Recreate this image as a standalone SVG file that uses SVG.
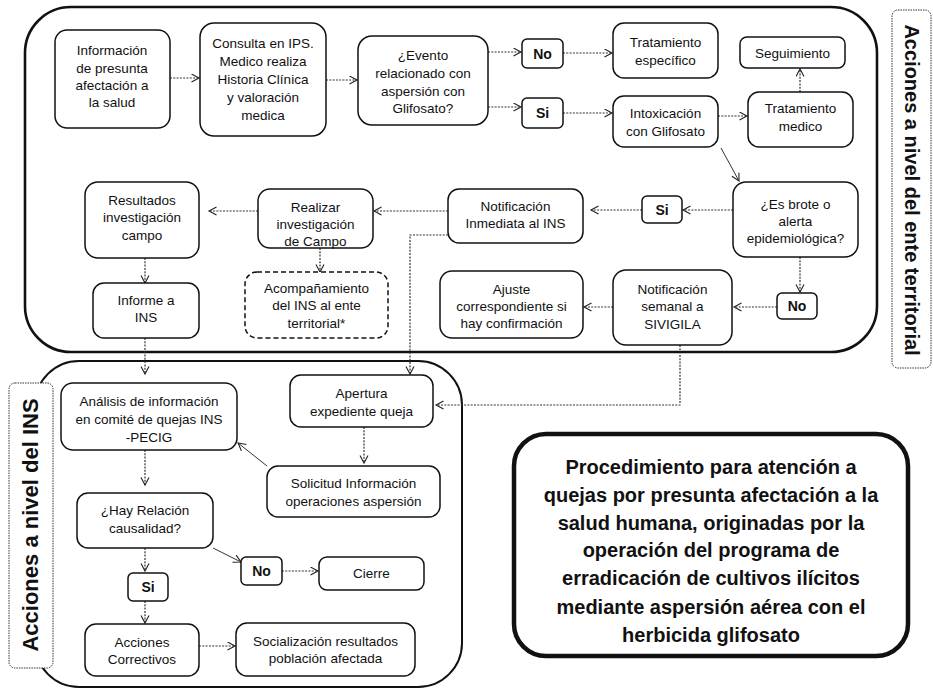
<svg xmlns="http://www.w3.org/2000/svg" width="933" height="691" viewBox="0 0 933 691">
<defs>
<marker id="ah" markerUnits="userSpaceOnUse" markerWidth="12" markerHeight="12" refX="8" refY="4.5" orient="auto">
<path d="M0.5,0.5 L8,4.5 L0.5,8.5" fill="none" stroke="#222" stroke-width="1.1"/>
</marker>
<style>
.bg{fill:#fff}
.frame{fill:none;stroke:#111;stroke-width:2.6}
.frame2{fill:none;stroke:#111;stroke-width:2}
.lab rect{fill:#fff;stroke:#333;stroke-width:1;stroke-dasharray:1.5 1}
.lab text{font-family:"Liberation Sans",Arial,sans-serif;font-weight:bold;fill:#111;text-anchor:middle}
.n rect{fill:#fff;stroke:#111;stroke-width:1.5}
.n text{font-family:"Liberation Sans",Arial,sans-serif;font-size:13.5px;fill:#111;text-anchor:middle}
.n.d rect{stroke-dasharray:5 3}
.n.b text{font-weight:bold;font-size:14px}
.c path{fill:none;stroke:#333;stroke-width:1.2;stroke-dasharray:2 1.3;marker-end:url(#ah)}
.c path.s{stroke-dasharray:none;stroke-width:1}
#title rect{fill:#fff;stroke:#111;stroke-width:4.5}
#title text{font-family:"Liberation Sans",Arial,sans-serif;font-size:20px;font-weight:bold;fill:#111;text-anchor:middle}
</style>
</defs>
<rect class="bg" x="0" y="0" width="933" height="691"/>

<g id="frames">
<rect class="frame" x="25" y="7" width="852" height="345" rx="46"/>
<rect class="frame2" x="35" y="361" width="427" height="326" rx="44"/>
</g>

<g id="label-ente" class="lab">
<rect x="892" y="10" width="39" height="358" rx="6"/>
<text transform="translate(905,190) rotate(90)" font-size="20">Acciones a nivel del ente territorial</text>
</g>
<g id="label-ins" class="lab">
<rect x="9" y="383" width="44" height="285" rx="6"/>
<text transform="translate(38,525) rotate(-90)" font-size="22">Acciones a nivel del INS</text>
</g>

<g id="connectors" class="c">
<path d="M170,78 H199"/>
<path d="M326,80 H357"/>
<path d="M488,52 H521"/>
<path d="M488,107 H521"/>
<path d="M563,53 H612"/>
<path d="M563,113 H612"/>
<path d="M718,116 H747"/>
<path d="M800,92 V69"/>
<path class="s" d="M721,148 L739,181"/>
<path d="M733,210 H683"/>
<path d="M642,210 H591"/>
<path d="M448,211 H374"/>
<path d="M258,211 H209"/>
<path d="M145,258 V283"/>
<path d="M320,248 V272"/>
<path d="M800,257 V292"/>
<path d="M777,307 H734"/>
<path d="M613,307 H584"/>
<path d="M448,235 H410 V374"/>
<path d="M680,345 V405 H436"/>
<path d="M145,338 V374"/>
<path d="M145,450 V485"/>
<path d="M364,427 V463"/>
<path class="s" d="M267,466 L238,443"/>
<path d="M145,548 V571"/>
<path class="s" d="M213,548 L241,562"/>
<path d="M282,571 H318"/>
<path d="M145,601 V623"/>
<path d="M199,646 H235"/>
</g>

<g id="n-info" class="n"><rect x="55" y="30" width="115" height="98" rx="12"/>
<text><tspan x="112" y="55">Información</tspan><tspan x="112" y="72.5">de presunta</tspan><tspan x="112" y="90">afectación a</tspan><tspan x="112" y="107">la salud</tspan></text></g>

<g id="n-consulta" class="n"><rect x="200" y="23" width="126" height="113" rx="14"/>
<text><tspan x="263" y="48">Consulta en IPS.</tspan><tspan x="263" y="66">Medico realiza</tspan><tspan x="263" y="84">Historia Clínica</tspan><tspan x="263" y="102">y valoración</tspan><tspan x="263" y="120">medica</tspan></text></g>

<g id="n-evento" class="n"><rect x="358" y="36" width="130" height="89" rx="14"/>
<text><tspan x="423" y="60">¿Evento</tspan><tspan x="423" y="78">relacionado con</tspan><tspan x="423" y="96">aspersión con</tspan><tspan x="423" y="113">Glifosato?</tspan></text></g>

<g id="n-no1" class="n b"><rect x="522" y="39" width="41" height="29" rx="5"/>
<text x="542.5" y="59">No</text></g>

<g id="n-si1" class="n b"><rect x="522" y="98" width="41" height="30" rx="5"/>
<text x="542.5" y="118">Si</text></g>

<g id="n-tratesp" class="n"><rect x="613" y="23" width="105" height="55" rx="11"/>
<text><tspan x="665.5" y="47">Tratamiento</tspan><tspan x="665.5" y="64.5">específico</tspan></text></g>

<g id="n-intox" class="n"><rect x="613" y="96" width="105" height="51" rx="11"/>
<text><tspan x="665.5" y="118">Intoxicación</tspan><tspan x="665.5" y="136">con Glifosato</tspan></text></g>

<g id="n-seguimiento" class="n"><rect x="740" y="37" width="105" height="31" rx="7"/>
<text x="792.5" y="58">Seguimiento</text></g>

<g id="n-tratmed" class="n"><rect x="748" y="92" width="105" height="55" rx="11"/>
<text><tspan x="800.5" y="113">Tratamiento</tspan><tspan x="800.5" y="131">medico</tspan></text></g>

<g id="n-brote" class="n"><rect x="733" y="182" width="125" height="75" rx="13"/>
<text><tspan x="795.5" y="209">¿Es brote o</tspan><tspan x="795.5" y="226">alerta</tspan><tspan x="795.5" y="243">epidemiológica?</tspan></text></g>

<g id="n-si2" class="n b"><rect x="642" y="196" width="40" height="27" rx="5"/>
<text x="662" y="215">Si</text></g>

<g id="n-no2" class="n b"><rect x="777" y="293" width="40" height="26" rx="5"/>
<text x="797" y="311">No</text></g>

<g id="n-sivigila" class="n"><rect x="613" y="270" width="119" height="75" rx="13"/>
<text><tspan x="672.5" y="294">Notificación</tspan><tspan x="672.5" y="311">semanal  a</tspan><tspan x="672.5" y="329">SIVIGILA</tspan></text></g>

<g id="n-ajuste" class="n"><rect x="440" y="271" width="143" height="67" rx="12"/>
<text><tspan x="511.5" y="294">Ajuste</tspan><tspan x="511.5" y="311">correspondiente si</tspan><tspan x="511.5" y="328">hay confirmación</tspan></text></g>

<g id="n-notinm" class="n"><rect x="448" y="189" width="135" height="54" rx="11"/>
<text><tspan x="515.5" y="211">Notificación</tspan><tspan x="515.5" y="228">Inmediata al INS</tspan></text></g>

<g id="n-realizar" class="n"><rect x="258" y="189" width="115" height="59" rx="12"/>
<text><tspan x="315.5" y="212">Realizar</tspan><tspan x="315.5" y="229">investigación</tspan><tspan x="315.5" y="246">de Campo</tspan></text></g>

<g id="n-acomp" class="n d"><rect x="245" y="272" width="143" height="66" rx="12"/>
<text><tspan x="316.5" y="293">Acompañamiento</tspan><tspan x="316.5" y="310">del INS al ente</tspan><tspan x="316.5" y="328">territorial*</tspan></text></g>

<g id="n-resultados" class="n"><rect x="85" y="182" width="114" height="76" rx="13"/>
<text><tspan x="142" y="205">Resultados</tspan><tspan x="142" y="222">investigación</tspan><tspan x="142" y="240">campo</tspan></text></g>

<g id="n-informe" class="n"><rect x="93" y="283" width="106" height="55" rx="11"/>
<text><tspan x="146" y="305">Informe a</tspan><tspan x="146" y="322">INS</tspan></text></g>

<g id="n-analisis" class="n"><rect x="61" y="383" width="176" height="67" rx="12"/>
<text><tspan x="149" y="406">Análisis  de información</tspan><tspan x="149" y="424">en comité de quejas INS</tspan><tspan x="149" y="442">-PECIG</tspan></text></g>

<g id="n-apertura" class="n"><rect x="290" y="375" width="143" height="52" rx="11"/>
<text><tspan x="361.5" y="398">Apertura</tspan><tspan x="361.5" y="416">expediente queja</tspan></text></g>

<g id="n-solicitud" class="n"><rect x="267" y="466" width="173" height="51" rx="11"/>
<text><tspan x="353.5" y="488">Solicitud Información</tspan><tspan x="353.5" y="506">operaciones aspersión</tspan></text></g>

<g id="n-relacion" class="n"><rect x="77" y="493" width="136" height="55" rx="11"/>
<text><tspan x="145" y="515">¿Hay Relación</tspan><tspan x="145" y="533">causalidad?</tspan></text></g>

<g id="n-si3" class="n b"><rect x="128" y="573" width="40" height="28" rx="5"/>
<text x="148" y="592">Si</text></g>

<g id="n-no3" class="n b"><rect x="241" y="557" width="41" height="28" rx="5"/>
<text x="261.5" y="576">No</text></g>

<g id="n-cierre" class="n"><rect x="319" y="557" width="105" height="33" rx="8"/>
<text x="371.5" y="578">Cierre</text></g>

<g id="n-acciones" class="n"><rect x="85" y="624" width="114" height="52" rx="11"/>
<text><tspan x="142" y="647">Acciones</tspan><tspan x="142" y="664">Correctivos</tspan></text></g>

<g id="n-social" class="n"><rect x="236" y="623" width="179" height="53" rx="11"/>
<text><tspan x="325.5" y="646">Socialización resultados</tspan><tspan x="325.5" y="663">población afectada</tspan></text></g>

<g id="title"><rect x="514" y="434" width="394" height="222" rx="32"/>
<text><tspan x="711" y="474">Procedimiento para atención a</tspan><tspan x="711" y="502">quejas por presunta afectación a la</tspan><tspan x="711" y="530">salud humana, originadas por la</tspan><tspan x="711" y="557">operación del programa de</tspan><tspan x="711" y="585">erradicación de cultivos ilícitos</tspan><tspan x="711" y="614">mediante aspersión aérea con el</tspan><tspan x="711" y="642">herbicida glifosato</tspan></text></g>
</svg>
